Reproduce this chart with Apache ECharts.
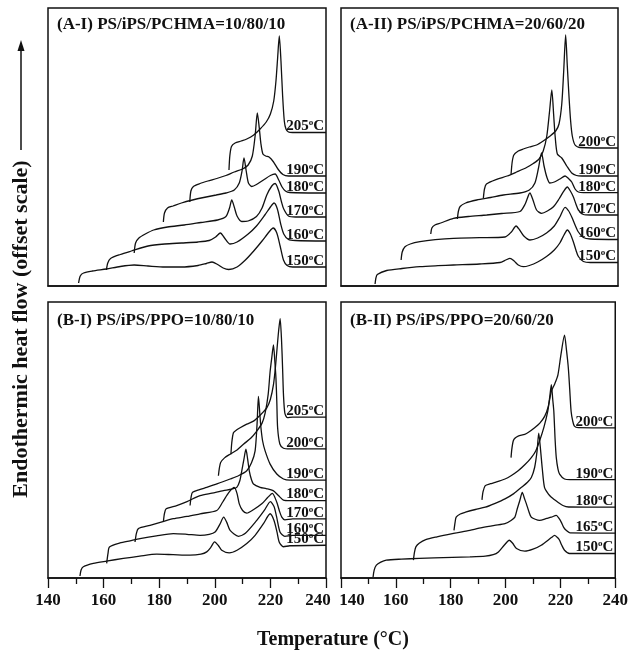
<!DOCTYPE html>
<html>
<head>
<meta charset="utf-8">
<script src="https://cdn.jsdelivr.net/npm/echarts@6/dist/echarts.min.js"></script>
<style>
html, body { margin: 0; padding: 0; background: #fff; }
#chart { width: 631px; height: 655px; }
</style>
</head>
<body>
<div id="chart"></div>
<script>
'use strict';

// x ticks shared by the bottom panels
var xTicks = [140, 160, 180, 200, 220, 240];

var panelTitles = [
    '(A-I) PS/iPS/PCHMA=10/80/10',
    '(A-II) PS/iPS/PCHMA=20/60/20',
    '(B-I) PS/iPS/PPO=10/80/10',
    '(B-II) PS/iPS/PPO=20/60/20'
];

// ---- (A-I) ---- [temperature, heat flow (offset, arb. units)]
var aI_temps = ['150', '160', '170', '180', '190', '205'];
var aI_150 = [[151,3],[151.6,10],[152.8,13],[156,15],[161,17],[166,19.5],[171,21],[176,20],[182,19],[188,19],[194,20.5],[197,22.5],[199,24],[201,21.5],[203,18],[205,16.5],[208,19],[211,26],[214,35],[217,45],[219.5,54],[221,58],[222.3,53],[223.5,40],[224.7,26],[226,20.5],[228,19],[240,19]];
var aI_160 = [[161,16],[161.5,23],[162.5,27.5],[166,31.5],[170,35],[176,40],[182,42],[188,43],[194,44],[198,45.5],[200.3,49],[202,53],[203.5,48],[205.5,42],[208,44],[212,52],[215,60],[218,71],[220,79],[221.3,83],[222.5,77],[223.7,62],[224.8,52],[226.5,46.5],[229,45.5],[240,45]];
var aI_170 = [[171,33],[171.5,43],[172.7,48],[175,52],[178,56],[183,59],[189,61],[195,63.5],[201,66],[204,69.5],[205.3,78],[206.1,86],[207,79],[208,70],[209.7,64.5],[212,65],[215,69.5],[217,78],[218.7,91],[220.5,100],[221.7,102.5],[223,95],[224,84],[224.8,77],[226.5,70],[229,69],[240,69]];
var aI_180 = [[181.5,64],[181.9,73],[183,78],[185,80],[188,83],[192,86],[196,88.5],[200.5,91],[204,93],[207,96],[208.8,103],[209.8,115],[210.5,128],[211.3,115],[212.1,103],[213.3,99.5],[215,101.5],[217.5,106],[220,110.5],[221.7,112],[223,106],[224.2,99],[225.4,95],[227,93.5],[240,93]];
var aI_190 = [[191,84],[191.4,95],[192.3,99.5],[194.7,102.5],[197.5,105],[200.7,107.5],[204,110.5],[207,114],[210,117],[212,121],[213.5,130],[214.5,150],[215.3,173],[216,158],[216.6,142],[217.3,132],[218.3,130],[219.5,129],[221,124.5],[222.7,117],[224.5,111.5],[226.5,110],[240,110]];
var aI_205 = [[205.1,116],[205.4,130],[206,139.5],[207.3,143],[209.5,145],[211.5,147],[214,151],[216.3,157],[218.5,164],[220,172],[221.2,185],[222,205],[222.6,228],[223.2,250],[223.8,225],[224.4,190],[225,165],[225.6,157],[226.5,154],[228,153.5],[240,153.5]];

// ---- (A-II) ----
var aII_temps = ['150', '160', '170', '180', '190', '200'];
var aII_150 = [[152.3,2],[152.6,8],[153.1,11.5],[156.5,15.5],[162,17.5],[168.5,19.3],[175,20.3],[180.6,21],[190,22],[197.4,23.5],[199.5,26],[201,27.7],[202.5,25],[204,21],[205.8,19.3],[208,20.5],[211,24],[214.2,29.5],[217,36],[219,43],[220.5,51],[221.7,56],[222.8,52],[223.9,44],[224.8,36],[225.7,29.5],[227.5,24.5],[230,23.5],[240,23.5]];
var aII_160 = [[161.7,26],[162.1,34],[163.1,39.3],[165,42],[168.5,44.3],[174,46.3],[180.6,47.7],[190,48.3],[199.2,49],[201.5,54],[203.2,60],[204.5,56],[206,50],[208.2,46],[211,48],[214.2,53],[217,60],[219,69],[220.9,78.7],[222.2,75],[223.3,69],[224.5,61],[225.7,54],[227.5,48.5],[230,47],[240,46.5]];
var aII_170 = [[172.4,52],[172.8,58],[173.9,61],[176,63],[180.6,67.7],[186,69.5],[192.6,71],[198,72.5],[204.6,74.5],[206.5,82],[208.2,93],[209.3,86],[210.6,76],[212.4,72.7],[214.5,75],[216.7,79.3],[218.7,87],[220.3,94.3],[221.7,99],[222.8,95],[223.9,89],[224.8,82],[225.7,76],[227.5,71.5],[230,71],[240,71]];
var aII_180 = [[182,67],[182.4,75],[183,79.5],[185,83],[189,86],[194,88.5],[198.6,91],[204.6,93],[208,96],[210,103],[211.3,118],[212.4,133],[213.3,120],[214.3,109],[215.4,103],[217,104],[219,107],[220.9,110],[222.3,107],[223.3,104],[224.5,97],[225.7,94],[227.5,93.3],[240,93.3]];
var aII_190 = [[191.4,88],[191.8,97],[192.5,102],[196.2,106.7],[200,110],[203.4,114],[207,118.5],[209.4,122.5],[211.5,127],[213,135],[214.3,150],[215.3,175],[216.1,196],[216.8,170],[217.3,150],[218.1,132],[219.7,128],[221.5,120],[223.3,113],[225,110.5],[227,110],[240,110]];
var aII_200 = [[201.4,112],[201.8,124],[202.4,131],[204,135],[205.8,137],[208,139],[210.6,141],[213,145],[215.5,150],[217.5,155],[218.7,162],[219.7,182],[220.4,215],[221.1,251],[221.7,220],[222.3,190],[222.9,165],[223.5,150],[224.5,141],[226.3,138.5],[240,138]];

// ---- (B-I) ----
var bI_temps = ['150', '160', '170', '180', '190', '200', '205'];
var bI_150 = [[151.5,2],[151.9,8],[152.7,11.3],[156.3,14.7],[161,17],[167.1,19.7],[173,22],[179.1,24],[185,23.5],[191.1,23],[195,24],[197.1,26.3],[198.6,31],[199.9,36.3],[201.2,33],[202.5,28],[205.2,25.3],[208,28],[211.5,34.7],[214.5,43],[217.5,54.7],[219.9,64.7],[221.3,58],[222.4,46],[223.2,36],[224.7,31.5],[227,32.5],[240,33]];
var bI_160 = [[161.1,14.7],[161.6,25],[162.1,31.3],[165.9,35.3],[169.5,37.5],[173.1,39.7],[179,42.5],[185.1,44.7],[190,44],[194.7,43],[198,44],[200.1,46.3],[201.8,54],[203.2,61.3],[204.3,56],[205.5,48],[208.5,42],[211,45],[215.1,58],[217.8,68],[220,77],[221.3,72],[222.2,62],[223.5,46],[225.2,42],[228,43],[240,43]];
var bI_170 = [[171.3,36.3],[171.8,45],[172.5,49.7],[176.7,53],[181,56.5],[185.1,59.7],[190,62],[194.7,64.7],[200.7,68],[202.8,76.3],[205,86],[207,91.3],[208,85],[208.8,74.7],[210,68],[211.5,65.3],[214,69],[216.9,74.7],[219,81],[220.7,85.3],[222.3,76.3],[223.3,67],[224.1,61.3],[225.2,58.5],[228,59.5],[240,59.5]];
var bI_180 = [[181.5,56.5],[181.9,65],[182.5,69.7],[186.3,73],[190,77],[194.7,83],[199,85.5],[203.1,88],[206,89.5],[207.9,91.3],[209,98],[209.7,108],[210.5,120],[211.2,129.7],[211.8,120],[212.4,108],[213.2,99],[213.9,94.7],[216.3,91.3],[218.5,90],[221,88],[222.9,83],[224.7,78.5],[227,78],[240,78]];
var bI_190 = [[191.1,73],[191.5,82],[192,86.3],[194.5,89],[197.1,91.3],[201,95],[205.5,99.7],[208.5,103],[211.5,108],[213.2,116],[214.5,128],[215.2,155],[215.7,183],[216.2,165],[216.6,151.3],[217.2,138],[218.1,128],[219.9,114.7],[222.3,104.7],[224.7,99.7],[227,98.5],[240,98.5]];
var bI_200 = [[201.3,103],[201.6,110],[202.1,116.3],[203.5,121],[205.5,124.7],[208,129],[210.3,134.7],[213,141],[215.1,148],[217,156],[218.1,166],[219.2,185],[219.9,208],[220.5,222],[221.1,234.7],[221.6,218],[222,201],[222.3,178],[222.6,151.3],[223.4,135],[224.7,130.7],[227,130],[240,130]];
var bI_205 = [[205.8,124.7],[206.1,136],[206.7,146.3],[207.8,149],[209.1,151.3],[211.5,155],[213.9,158],[216.3,164],[218.7,171.3],[220,180],[221.1,194.7],[221.8,212],[222.5,234.7],[223,250],[223.5,261.3],[224,240],[224.4,210],[224.7,184.7],[225.2,166],[226.1,161.5],[228,162],[240,162]];

// ---- (B-II) ----
var bII_temps = ['150', '165', '180', '190', '200'];
var bII_150 = [[151.7,1],[152.1,8],[152.9,13],[154.5,16],[156.5,18],[162,19],[168.5,19.7],[174,20.2],[180.6,20.7],[187,21.2],[192.6,22],[195.5,23.5],[197.4,26.3],[199.5,33],[201.4,38],[202.6,35],[204,29.7],[207,27],[210,29],[213,33],[216.7,40.7],[217.9,43],[219.2,40],[219.7,38],[220.5,33],[221.5,28],[223.3,24.7],[240,24.7]];
var bII_165 = [[166.4,18],[166.8,26],[167.3,31.3],[168.5,35],[170.9,38.7],[175,41.5],[180.6,44.7],[186,47.5],[191.4,50.7],[196,53],[199.8,54.7],[202,58],[203.4,61.3],[204.3,70],[205.2,78],[206.1,86.3],[206.9,80],[207.6,74.7],[208.5,67],[209.4,61.3],[212.4,58],[215,60],[216.7,61.3],[218.5,63],[219.5,60],[220.3,56.3],[221.2,51],[222.1,48],[223.5,45.5],[240,45.3]];
var bII_180 = [[181.2,48],[181.6,56],[182,61.3],[183.5,64.5],[185.4,66.3],[189,69],[192.6,71.3],[196,75],[199.8,79.7],[203,85],[205.8,91.3],[208,96.5],[209.4,101.3],[210.6,111.3],[211.5,128],[212.1,146],[212.8,128],[213.4,110],[214.2,91.3],[215.5,85],[216.7,81.3],[219.1,76.3],[220.9,73],[223,71.5],[240,71.3]];
var bII_190 = [[191.4,78.7],[191.8,87],[192.6,93],[194.5,95],[196.2,96.3],[199.8,99.7],[202,103],[204.6,108],[207,114],[209.4,121.3],[211,128],[212.4,138],[214,152],[215.4,168],[216.1,182],[216.7,194.7],[217.2,180],[217.6,168],[218.1,138],[218.5,121.3],[219.1,110],[219.7,104.7],[221.5,99.7],[223.5,99],[240,99]];
var bII_200 = [[202,121.3],[202.3,130],[202.8,138],[203.5,141],[204.6,143],[207,144.7],[208.5,147],[210.6,151.3],[212.5,156],[214.3,163],[215.5,172],[216.7,188],[218,196],[219.1,204.7],[220.2,225],[221.5,244.7],[222.2,230],[222.9,211.3],[223.4,190],[223.9,168],[224.5,158],[225.1,153],[226.5,151.5],[240,151.3]];

var aI_curves = [aI_150, aI_160, aI_170, aI_180, aI_190, aI_205];
var aII_curves = [aII_150, aII_160, aII_170, aII_180, aII_190, aII_200];
var bI_curves = [bI_150, bI_160, bI_170, bI_180, bI_190, bI_200, bI_205];
var bII_curves = [bII_150, bII_165, bII_180, bII_190, bII_200];

var ink = '#111';
var serif = '"Liberation Serif", "Times New Roman", serif';

var chart = echarts.init(document.getElementById('chart'));

// panel boxes in pixels: A-I, A-II, B-I, B-II
var boxes = [
    {left: 48, top: 8, width: 278, height: 278, ticks: false},
    {left: 341, top: 8, width: 277, height: 278, ticks: false},
    {left: 48, top: 302, width: 278, height: 276, ticks: true},
    {left: 341, top: 302, width: 277, height: 276, ticks: true}
];
var curveSets = [aI_curves, aII_curves, bI_curves, bII_curves];
var tempSets = [aI_temps, aII_temps, bI_temps, bII_temps];

var grids = [], xAxes = [], yAxes = [], series = [], graphics = [];

boxes.forEach(function (b, i) {
    grids.push({
        left: b.left, top: b.top, width: b.width, height: b.height,
        show: true, borderColor: ink, borderWidth: 1.5, containLabel: false
    });
    xAxes.push({
        type: 'value', gridIndex: i, min: 140, max: 240, interval: 20,
        axisLine: {show: true, onZero: false, lineStyle: {color: ink, width: 1.5}},
        axisTick: {show: b.ticks, length: 10, lineStyle: {color: ink, width: 1.3}},
        minorTick: {show: b.ticks, splitNumber: 2, length: 6, lineStyle: {color: ink, width: 1.3}},
        splitLine: {show: false},
        axisLabel: {
            show: b.ticks, margin: 14, color: ink, fontFamily: serif,
            fontWeight: 'bold', fontSize: 17,
            formatter: function (v) {
                if (i === 2 && v === xTicks[xTicks.length - 1]) return '{l|' + v + '}';
                if (i === 3 && v === xTicks[0]) return '{r|' + v + '}';
                return String(v);
            },
            rich: {
                l: {fontFamily: serif, fontWeight: 'bold', fontSize: 17, color: ink, padding: [0, 16, 0, 0]},
                r: {fontFamily: serif, fontWeight: 'bold', fontSize: 17, color: ink, padding: [0, 0, 0, 22]}
            }
        }
    });
    yAxes.push({type: 'value', gridIndex: i, min: 0, max: 278, show: false, splitLine: {show: false}});

    curveSets[i].forEach(function (data, k) {
        var t = tempSets[i][k];
        series.push({
            type: 'line', xAxisIndex: i, yAxisIndex: i, data: data,
            showSymbol: false, smooth: 0.25, silent: true, animation: false,
            lineStyle: {color: ink, width: 1.3},
            endLabel: {
                show: true, align: 'right', verticalAlign: 'bottom', distance: 0,
                offset: [-2, 2],
                formatter: function () { return t + '{s|o}C'; },
                fontFamily: serif, fontWeight: 'bold', fontSize: 15, color: ink,
                rich: {s: {fontFamily: serif, fontWeight: 'bold', fontSize: 9, color: ink, padding: [0, 0, 7, 0]}}
            }
        });
    });

    graphics.push({
        type: 'text', left: b.left + 9, top: b.top + (i < 2 ? 8 : 10),
        style: {text: panelTitles[i], font: 'bold 17px ' + serif, fill: ink}
    });
});

// axis titles
graphics.push({
    type: 'text', x: 333, y: 640,
    style: {text: 'Temperature (\u00B0C)', font: 'bold 20px ' + serif, fill: ink,
        textAlign: 'center', textVerticalAlign: 'middle'}
});
graphics.push({
    type: 'text', x: 21, y: 329, rotation: Math.PI / 2,
    style: {text: 'Endothermic heat flow (offset scale)', font: 'bold 22px ' + serif, fill: ink,
        textAlign: 'center', textVerticalAlign: 'middle'}
});
graphics.push({
    type: 'line', shape: {x1: 21, y1: 150, x2: 21, y2: 50},
    style: {stroke: ink, lineWidth: 1.5}
});
graphics.push({
    type: 'polygon', shape: {points: [[21, 40], [17.5, 51], [24.5, 51]]},
    style: {fill: ink}
});

chart.setOption({
    animation: false,
    grid: grids,
    xAxis: xAxes,
    yAxis: yAxes,
    series: series,
    graphic: graphics
});
</script>
</body>
</html>
